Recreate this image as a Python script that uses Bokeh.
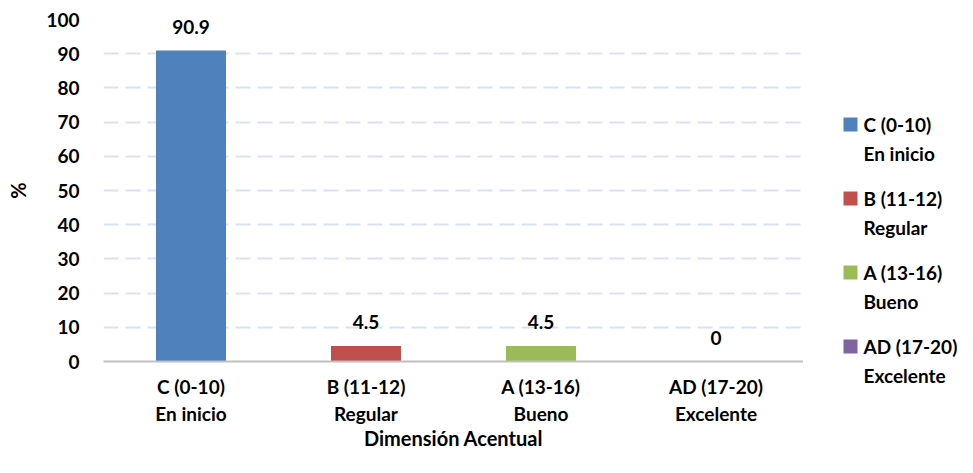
from bokeh.plotting import figure
from bokeh.layouts import row
from bokeh.models import ColumnDataSource, FixedTicker, Range1d
from bokeh.core.properties import value
from bokeh.embed import file_html
from bokeh.resources import INLINE

categories = ["C (0-10)\nEn inicio", "B (11-12)\nRegular", "A (13-16)\nBueno", "AD (17-20)\nExcelente"]
legend_line1 = ["C (0-10)", "B (11-12)", "A (13-16)", "AD (17-20)"]
legend_line2 = ["En inicio", "Regular", "Bueno", "Excelente"]
values = [90.9, 4.5, 4.5, 0]
labels = ["90.9", "4.5", "4.5", "0"]
colors = ["#4F81BD", "#C0504D", "#9BBB59", "#8064A2"]
y_ticks = [0, 10, 20, 30, 40, 50, 60, 70, 80, 90, 100]

FONT = "Lato"
H = 457
TOP = 19
LEFT = 103
FW, FH = 700, 342

src = ColumnDataSource(dict(cat=categories, val=values, lab=labels, col=colors))

p = figure(x_range=categories, y_range=Range1d(0, 100), frame_width=FW, frame_height=FH, title=None,
           output_backend="svg", toolbar_location=None,
           min_border_left=LEFT, min_border_right=0, min_border_top=TOP,
           min_border_bottom=H - TOP - FH)
p.outline_line_color = None
p.background_fill_color = "white"

p.vbar(x="cat", top="val", width=0.4, fill_color="col", line_color=None, source=src)
p.text(x="cat", y="val", text="lab", source=src, text_align="center", text_baseline="bottom",
       y_offset=-17, text_font=value(FONT), text_font_style="bold", text_font_size="19px",
       text_color="#000000")

p.yaxis.ticker = FixedTicker(ticks=y_ticks)
p.yaxis.axis_line_color = None
p.yaxis.major_tick_line_color = None
p.yaxis.minor_tick_line_color = None
p.yaxis.major_label_text_font = FONT
p.yaxis.major_label_text_font_style = "bold"
p.yaxis.major_label_text_font_size = "19px"
p.yaxis.major_label_text_color = "#000000"
p.yaxis.major_label_standoff = 18
p.yaxis.axis_label = "%"
p.yaxis.axis_label_text_font = FONT
p.yaxis.axis_label_text_font_style = "bold"
p.yaxis.axis_label_text_font_size = "20px"
p.yaxis.axis_label_text_color = "#000000"
p.yaxis.axis_label_standoff = 13

p.xaxis.axis_line_color = "#BFBFBF"
p.xaxis.axis_line_width = 2
p.xaxis.major_tick_line_color = None
p.xaxis.minor_tick_line_color = None
p.xaxis.major_label_text_font = FONT
p.xaxis.major_label_text_font_style = "bold"
p.xaxis.major_label_text_font_size = "19px"
p.xaxis.major_label_text_color = "#000000"
p.xaxis.major_label_standoff = 7
p.xaxis.axis_label = "Dimensión Acentual"
p.xaxis.axis_label_text_font = FONT
p.xaxis.axis_label_text_font_style = "bold"
p.xaxis.axis_label_text_font_size = "20px"
p.xaxis.axis_label_text_color = "#000000"
p.xaxis.axis_label_standoff = -2

p.xgrid.grid_line_color = None
p.ygrid.grid_line_color = "#D9E1F2"
p.ygrid.grid_line_width = 2
p.ygrid.grid_line_dash = "15 7"

# legend panel (separate figure, pixel-like coordinates, y downward)
LW = 957 - (LEFT + FW)
leg = figure(x_range=Range1d(0, LW), y_range=Range1d(H, 0), frame_width=LW, frame_height=H,
             title=None, output_backend="svg", toolbar_location=None, min_border=0,
             x_axis_location=None, y_axis_location=None)
leg.outline_line_color = None
leg.xgrid.grid_line_color = None
leg.ygrid.grid_line_color = None

row_y = [105 + 74 * i for i in range(len(legend_line1))]
lsrc = ColumnDataSource(dict(
    y1=row_y, y2=[y + 29 for y in row_y], l1=legend_line1, l2=legend_line2, col=colors,
    xs=[47] * 4, xt=[60] * 4))
leg.rect(x="xs", y="y1", width=14, height=14, fill_color="col", line_color=None, source=lsrc)
for ycol, tcol in (("y1", "l1"), ("y2", "l2")):
    leg.text(x="xt", y=ycol, text=tcol, source=lsrc, text_baseline="middle", text_align="left",
             text_font=value(FONT), text_font_style="bold", text_font_size="19px",
             text_color="#000000")

layout = row(p, leg)
open("out.html", "w").write(file_html(layout, INLINE))
